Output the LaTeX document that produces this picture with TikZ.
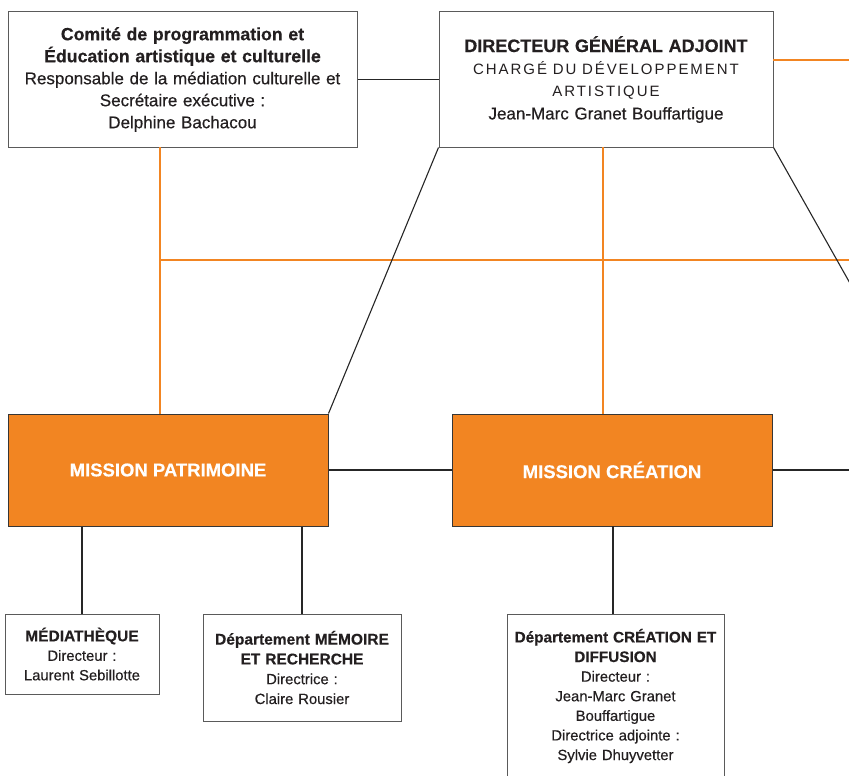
\documentclass[tikz,border=0pt]{standalone}
\usepackage{fontspec}
\setmainfont{Liberation Sans}[FakeBold=0.4]
\newfontfamily\spacedfont{Liberation Sans}[LetterSpace=13]
\definecolor{orng}{HTML}{F28522}
\definecolor{txt}{HTML}{231F20}
\definecolor{brd}{HTML}{5A5A5A}
\tikzset{
  wbox/.style={draw=brd, line width=1pt, fill=white, inner sep=0pt, align=center, text=txt},
  obox/.style={draw=brd!60!black, line width=1pt, fill=orng, inner sep=0pt, align=center, text=white, font=\bfseries\fontsize{18.5}{22}\selectfont},
  bline/.style={draw=black!85, line width=1.1pt},
  oline/.style={draw=orng, line width=2pt},
}
\begin{document}
\begin{tikzpicture}[x=1pt,y=-1pt]
\useasboundingbox (0,0) rectangle (849,776);
\clip (0,0) rectangle (849,776);
% top boxes
\node[wbox, text width=349pt, minimum height=135pt, font=\fontsize{17}{22}\selectfont] (box1) at (182.5,79.5) {{\bfseries\fontsize{17.7}{22}\selectfont Comité de programmation et\\Éducation artistique et culturelle}\\Responsable de la médiation culturelle et\\Secrétaire exécutive :\\Delphine Bachacou};
\node[wbox, text width=334pt, minimum height=135pt, font=\fontsize{17}{22.7}\selectfont] (box2) at (606,79.5) {{\bfseries\fontsize{18}{22}\selectfont DIRECTEUR GÉNÉRAL ADJOINT}\\{\spacedfont\fontsize{15}{22}\selectfont CHARGÉ DU DÉVELOPPEMENT\\ARTISTIQUE}\\Jean-Marc Granet Bouffartigue};
% missions
\node[obox, minimum width=320pt, minimum height=112pt] (patr) at (168,470) {MISSION PATRIMOINE};
\node[obox, minimum width=320pt, minimum height=112pt] (crea) at (612,470) {MISSION CRÉATION};
% lower boxes
\node[wbox, text width=154pt, minimum height=80pt, font=\fontsize{14.8}{19.5}\selectfont] (med) at (82,654) {{\bfseries\fontsize{15.5}{19.5}\selectfont MÉDIATHÈQUE}\\Directeur :\\Laurent Sebillotte};
\node[wbox, text width=198pt, minimum height=107pt, font=\fontsize{14.8}{19.8}\selectfont] (mem) at (302,667.5) {{\bfseries\fontsize{15.5}{19.8}\selectfont Département MÉMOIRE\\ET RECHERCHE}\\Directrice :\\Claire Rousier};
\node[wbox, text width=217pt, minimum height=164pt, font=\fontsize{14.8}{19.6}\selectfont] (dcrea) at (615.5,696) {{\bfseries\fontsize{15.3}{19.6}\selectfont Département CRÉATION ET\\DIFFUSION}\\Directeur :\\Jean-Marc Granet\\Bouffartigue\\Directrice adjointe :\\Sylvie Dhuyvetter};
% helper coordinates
\coordinate (oA) at (160,147);
\coordinate (oB) at (160,260);
\coordinate (oC) at (860,260);
\coordinate (oD) at (603,147);
\coordinate (oE) at (773,60);
\coordinate (oF) at (860,60);
\coordinate (bG) at (860,301);
\coordinate (bH) at (860,470);
\coordinate (bI) at (613,526);
% connectors
\draw[oline] (oA) -- (oA |- patr.north);
\draw[oline] (oB) -- (oC);
\draw[oline] (oD) -- (oD |- crea.north);
\draw[oline] (oE) -- (oF);
\draw[bline] (box1.east) -- (box2.west);
\draw[bline] (box2.south west) -- (patr.north east);
\draw[bline] (box2.south east) -- (bG);
\draw[bline] (patr.east) -- (crea.west);
\draw[bline] (crea.east) -- (crea.east -| bH);
\draw[bline] (med.north |- patr.south) -- (med.north);
\draw[bline] (mem.north |- patr.south) -- (mem.north);
\draw[bline] (bI) -- (bI |- dcrea.north);
\end{tikzpicture}
\end{document}
